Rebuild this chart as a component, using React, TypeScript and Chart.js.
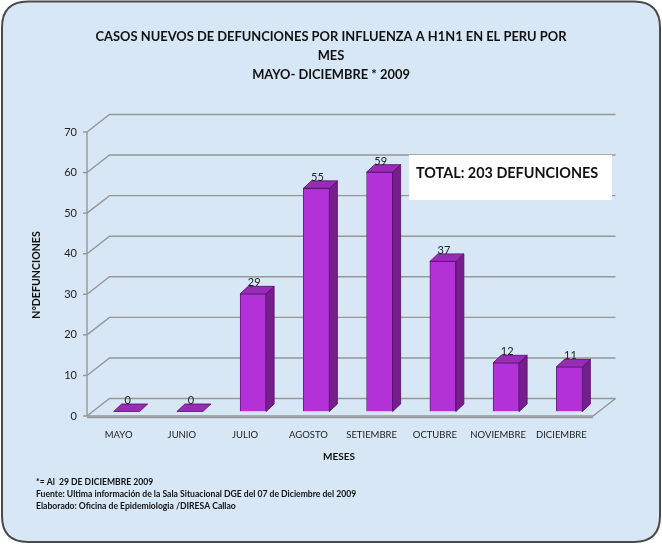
import { useEffect, useRef } from "react";
import { Chart, registerables } from "chart.js";

Chart.register(...registerables);

const months = ["MAYO", "JUNIO", "JULIO", "AGOSTO", "SETIEMBRE", "OCTUBRE", "NOVIEMBRE", "DICIEMBRE"];
const deaths = [0, 0, 29, 55, 59, 37, 12, 11];
const yMin = 0;
const yMax = 70;
const yStep = 10;
const titleLines = [
  "CASOS NUEVOS DE DEFUNCIONES POR INFLUENZA A H1N1 EN EL PERU POR",
  "MES",
  "MAYO- DICIEMBRE * 2009",
];
const yTitle = "N°DEFUNCIONES";
const xTitle = "MESES";
const totalLabel = "TOTAL: 203 DEFUNCIONES";
const footnotes = [
  "*= Al  29 DE DICIEMBRE 2009",
  "Fuente: Ultima información de la Sala Situacional DGE del 07 de Diciembre del 2009",
  "Elaborado: Oficina de Epidemiologia /DIRESA Callao",
];

const FONT = "Lato, 'Open Sans', sans-serif";
const W = 662;
const H = 544;
// wall depth offset (back wall relative to front plane)
const WALL_DX = 22.5;
const WALL_DY = -17.5;
// bar placement shift inside the depth & bar depth
const BAR_SHIFT_X = 8;
const BAR_SHIFT_Y = -4.5;
const BAR_DX = 8;
const BAR_DY = -7.5;

const FRONT = "#B232D8";
const SIDE = "#781C90";
const TOP = "#9A2AB8";
const EDGE = "#4E125E";
const GRID = "#979797";

function roundRect(ctx: CanvasRenderingContext2D, x: number, y: number, w: number, h: number, r: number) {
  ctx.beginPath();
  ctx.moveTo(x + r, y);
  ctx.lineTo(x + w - r, y);
  ctx.quadraticCurveTo(x + w, y, x + w, y + r);
  ctx.lineTo(x + w, y + h - r);
  ctx.quadraticCurveTo(x + w, y + h, x + w - r, y + h);
  ctx.lineTo(x + r, y + h);
  ctx.quadraticCurveTo(x, y + h, x, y + h - r);
  ctx.lineTo(x, y + r);
  ctx.quadraticCurveTo(x, y, x + r, y);
  ctx.closePath();
}

function poly(ctx: CanvasRenderingContext2D, pts: number[][], fill: string) {
  ctx.beginPath();
  ctx.moveTo(pts[0][0], pts[0][1]);
  for (let i = 1; i < pts.length; i++) ctx.lineTo(pts[i][0], pts[i][1]);
  ctx.closePath();
  ctx.fillStyle = fill;
  ctx.fill();
  ctx.strokeStyle = EDGE;
  ctx.lineWidth = 0.8;
  ctx.stroke();
}

const framePlugin = {
  id: "frame3d",
  beforeDraw(chart: any) {
    const ctx: CanvasRenderingContext2D = chart.ctx;
    const { left, right, top, bottom } = chart.chartArea;
    const y = chart.scales.y;
    ctx.save();
    ctx.fillStyle = "#ffffff";
    ctx.fillRect(0, 0, W, H);
    roundRect(ctx, 2, 1.5, W - 4, H - 3.5, 26);
    ctx.fillStyle = "#d7e7f6";
    ctx.fill();
    ctx.lineWidth = 2;
    ctx.strokeStyle = "#4a4a4a";
    ctx.stroke();

    // floor
    ctx.strokeStyle = GRID;
    ctx.lineWidth = 1.4;
    ctx.beginPath();
    ctx.moveTo(left, bottom);
    ctx.lineTo(right, bottom);
    ctx.lineTo(right + WALL_DX, bottom + WALL_DY);
    ctx.stroke();
    ctx.beginPath();
    ctx.moveTo(left, bottom + 1.5);
    ctx.lineTo(right, bottom + 1.5);
    ctx.stroke();

    // grid lines on back wall + diagonals on left wall
    for (let v = yMin; v <= yMax; v += yStep) {
      const py = y.getPixelForValue(v);
      ctx.beginPath();
      ctx.moveTo(left, py);
      ctx.lineTo(left + WALL_DX, py + WALL_DY);
      ctx.lineTo(right + WALL_DX, py + WALL_DY);
      ctx.stroke();
      ctx.beginPath();
      ctx.moveTo(left - 4, py);
      ctx.lineTo(left, py);
      ctx.stroke();
    }
    // front axis
    ctx.beginPath();
    ctx.moveTo(left, top);
    ctx.lineTo(left, bottom);
    ctx.stroke();

    // title
    ctx.fillStyle = "#111";
    ctx.textAlign = "center";
    ctx.textBaseline = "middle";
    ctx.font = `bold 12.9px ${FONT}`;
    const ty = [36.5, 55.5, 74.5];
    titleLines.forEach((t, i) => ctx.fillText(t, 331, ty[i]));

    // y title
    ctx.save();
    ctx.translate(37, 275);
    ctx.rotate(-Math.PI / 2);
    ctx.font = `bold 10.6px ${FONT}`;
    ctx.fillText(yTitle, 0, 0);
    ctx.restore();

    // x title
    ctx.font = `bold 10px ${FONT}`;
    ctx.fillText(xTitle, 339, 457);

    // footnotes
    ctx.textAlign = "left";
    ctx.font = `bold 8.6px ${FONT}`;
    const fy = [482, 494, 506];
    footnotes.forEach((t, i) => ctx.fillText(t, 36, fy[i]));

    // total box
    ctx.fillStyle = "#ffffff";
    ctx.fillRect(409, 155, 203, 45);
    ctx.fillStyle = "#111";
    ctx.font = `bold 14.4px ${FONT}`;
    ctx.fillText(totalLabel, 416, 173);
    ctx.restore();
  },
  beforeDatasetsDraw(chart: any) {
    chart.ctx.save();
    chart.ctx.translate(BAR_SHIFT_X, BAR_SHIFT_Y);
  },
  afterDatasetsDraw(chart: any) {
    const ctx: CanvasRenderingContext2D = chart.ctx;
    ctx.restore();
    ctx.save();
    const meta = chart.getDatasetMeta(0);
    meta.data.forEach((el: any, i: number) => {
      const { x, y, base, width } = el.getProps(["x", "y", "base", "width"], true);
      const x1 = x - width / 2 + BAR_SHIFT_X;
      const x2 = x + width / 2 + BAR_SHIFT_X;
      const yt = y + BAR_SHIFT_Y;
      const yb = base + BAR_SHIFT_Y;
      if (yb - yt > 0.5) {
        poly(ctx, [[x2, yt], [x2 + BAR_DX, yt + BAR_DY], [x2 + BAR_DX, yb + BAR_DY], [x2, yb]], SIDE);
      }
      poly(ctx, [[x1, yt], [x1 + BAR_DX, yt + BAR_DY], [x2 + BAR_DX, yt + BAR_DY], [x2, yt]], TOP);
      ctx.fillStyle = "#222";
      ctx.font = `11px ${FONT}`;
      ctx.textAlign = "center";
      ctx.textBaseline = "bottom";
      ctx.fillText(String(deaths[i]), (x1 + x2) / 2 + 1, yt + BAR_DY + 2);
    });
    ctx.restore();
  },
};

export default function App() {
  const ref = useRef<HTMLCanvasElement | null>(null);
  useEffect(() => {
    if (!ref.current) return;
    const chart = new Chart(ref.current, {
      type: "bar",
      data: {
        labels: months,
        datasets: [
          {
            data: deaths,
            backgroundColor: FRONT,
            borderColor: EDGE,
            borderWidth: 0.8,
            barThickness: 26,
          },
        ],
      },
      options: {
        responsive: false,
        animation: false,
        layout: { padding: { top: 132, right: 69, bottom: 0, left: 0 } },
        plugins: {
          legend: { display: false },
          title: { display: false },
          tooltip: { enabled: false },
        },
        scales: {
          y: {
            min: yMin,
            max: yMax,
            ticks: { stepSize: yStep, color: "#222", font: { size: 11, family: FONT }, padding: 10 },
            grid: { display: false, drawTicks: false },
            border: { display: false },
            afterFit: (s: any) => {
              s.width = 87;
            },
          },
          x: {
            ticks: { color: "#222", font: { size: 9.5, family: FONT }, padding: 13, maxRotation: 0, autoSkip: false },
            grid: { display: false, drawTicks: false },
            border: { display: false },
            afterFit: (s: any) => {
              s.height = 128;
            },
          },
        },
      },
      plugins: [framePlugin],
    } as any);
    return () => chart.destroy();
  }, []);
  return (
    <div style={{ position: "fixed", left: 0, top: 0, width: W, height: H }}>
      <canvas ref={ref} width={W} height={H} style={{ width: W, height: H, display: "block" }} />
    </div>
  );
}
